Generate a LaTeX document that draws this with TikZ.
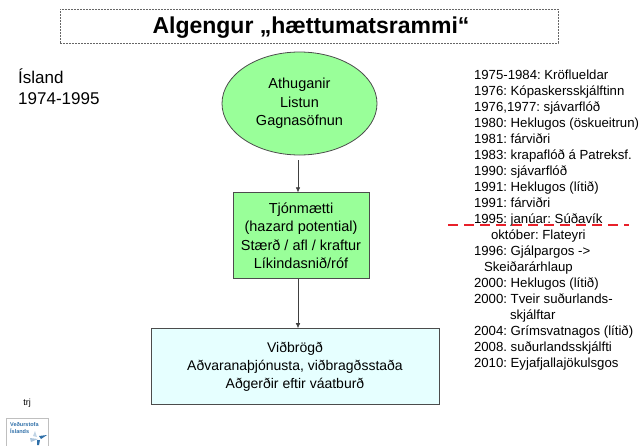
\documentclass[tikz,border=0pt]{standalone}
\usepackage{fontspec}
\setmainfont{Liberation Sans}
\usetikzlibrary{positioning,arrows.meta,shapes.geometric}

\definecolor{lightgreen}{HTML}{99FF99}
\definecolor{lightcyan}{HTML}{E6FFFF}
\definecolor{logoblue}{HTML}{2F6FA8}
\definecolor{dashred}{HTML}{E8202A}

\tikzset{
  stage/.style={draw=black!70, line width=.8pt, align=center, text=black, font=\fontsize{14.5}{18.4}\selectfont, inner sep=0pt},
  event/.style={inner sep=0pt, outer sep=0pt, text height=12pt, text depth=4pt, font=\fontsize{13.2}{15}\selectfont},
  flow/.style={-{Latex[length=5pt,width=4.5pt]}, black!75, line width=.6pt}
}

\begin{document}
\frenchspacing
\begin{tikzpicture}[x=1pt,y=-1pt]
\useasboundingbox (0,0) rectangle (639,445);

% Nodes
  \node[draw=black!60, dash pattern=on 2pt off 1pt, minimum width=498pt, minimum height=34pt, inner sep=0pt,
        text height=20pt, text depth=5pt,
        text=black, font=\bfseries\fontsize{23}{27}\selectfont] (Title) at (309,26) {\hspace{4pt}Algengur „hættumatsrammi“};
  \node[stage, ellipse, fill=lightgreen, minimum width=155pt, minimum height=103pt] (Obs) at (299.5,103.5)
    {Athuganir\\Listun\\Gagnasöfnun};
  \node[stage, fill=lightgreen, minimum width=136pt, minimum height=86pt, below=37pt of Obs, xshift=1.5pt] (Hazard)
    {Tjónmætti\\(hazard potential)\\Stærð / afl / kraftur\\Líkindasnið/róf};
  \node[stage, fill=lightcyan, minimum width=288pt, minimum height=76pt, below=49pt of Hazard, xshift=-6pt,
        font=\fontsize{14}{18}\selectfont] (Resp)
    {Viðbrögð\\Aðvaranaþjónusta, viðbragðsstaða\\Aðgerðir eftir váatburð};

  \node[align=left, inner sep=0pt, font=\fontsize{17}{21}\selectfont, anchor=north west] (Iceland) at (18,69)
    {Ísland\\1974-1995};
  \node[inner sep=0pt, font=\fontsize{9}{11}\selectfont] (Sign) at (27,403) {trj};

% Event list
  \node[event, anchor=north west]                      (E1) at (474,67) {1975-1984: Kröflueldar};
  \node[event, below right=0pt and 0pt of E1.south west]  (E2)  {1976: Kópaskersskjálftinn};
  \node[event, below right=0pt and 0pt of E2.south west]  (E3)  {1976,1977: sjávarflóð};
  \node[event, below right=0pt and 0pt of E3.south west]  (E4)  {1980: Heklugos (öskueitrun)};
  \node[event, below right=0pt and 0pt of E4.south west]  (E5)  {1981: fárviðri};
  \node[event, below right=0pt and 0pt of E5.south west]  (E6)  {1983: krapaflóð á Patreksf.};
  \node[event, below right=0pt and 0pt of E6.south west]  (E7)  {1990: sjávarflóð};
  \node[event, below right=0pt and 0pt of E7.south west]  (E8)  {1991: Heklugos (lítið)};
  \node[event, below right=0pt and 0pt of E8.south west]  (E9)  {1991: fárviðri};
  \node[event, below right=0pt and 0pt of E9.south west]  (E10) {1995: janúar: Súðavík};
  \node[event, below right=0pt and 0pt of E10.south west] (E11) {\hspace{17pt}október: Flateyri};
  \node[event, below right=0pt and 0pt of E11.south west] (E12) {1996: Gjálpargos ->};
  \node[event, below right=0pt and 0pt of E12.south west] (E13) {\hspace{10pt}Skeiðarárhlaup};
  \node[event, below right=0pt and 0pt of E13.south west] (E14) {2000: Heklugos (lítið)};
  \node[event, below right=0pt and 0pt of E14.south west] (E15) {2000: Tveir suðurlands-};
  \node[event, below right=0pt and 0pt of E15.south west] (E16) {\hspace{36pt}skjálftar};
  \node[event, below right=0pt and 0pt of E16.south west] (E17) {2004: Grímsvatnagos (lítið)};
  \node[event, below right=0pt and 0pt of E17.south west] (E18) {2008. suðurlandsskjálfti};
  \node[event, below right=0pt and 0pt of E18.south west] (E19) {2010: Eyjafjallajökulsgos};

% Logo
  \node[draw=black!25, minimum width=42pt, minimum height=28pt, inner sep=0pt, anchor=north west] (Logo) at (6,418) {};
  \node[inner sep=0pt, align=left, text=logoblue, font=\bfseries\fontsize{5.5}{7.5}\selectfont, anchor=north west] (LogoText) at (10,422)
    {Veðurstofa\\Íslands};
  \fill[logoblue] (39,436) -- (47,435) -- (41,439) -- cycle;
  \fill[logoblue] (37,440) -- (40,440) -- (39,445) -- (37,445) -- cycle;
  \fill[logoblue!40] (30,438) -- (38,439) -- (31,442) -- cycle;
  \fill[logoblue!30] (35,431) -- (37,437) -- (33,436) -- cycle;

% Edges
  \coordinate (ObsEnd) at (298,160);
  \draw[flow] (ObsEnd) -- (ObsEnd |- Hazard.north);
  \draw[flow] (ObsEnd |- Hazard.south) -- (ObsEnd |- Resp.north);

% Separator
  \coordinate (SepL) at (448,225);
  \coordinate (SepR) at (629,225);
  \draw[dashred, line width=1.4pt, dash pattern=on 10pt off 6pt] (SepL) -- (SepR);

\end{tikzpicture}
\end{document}
